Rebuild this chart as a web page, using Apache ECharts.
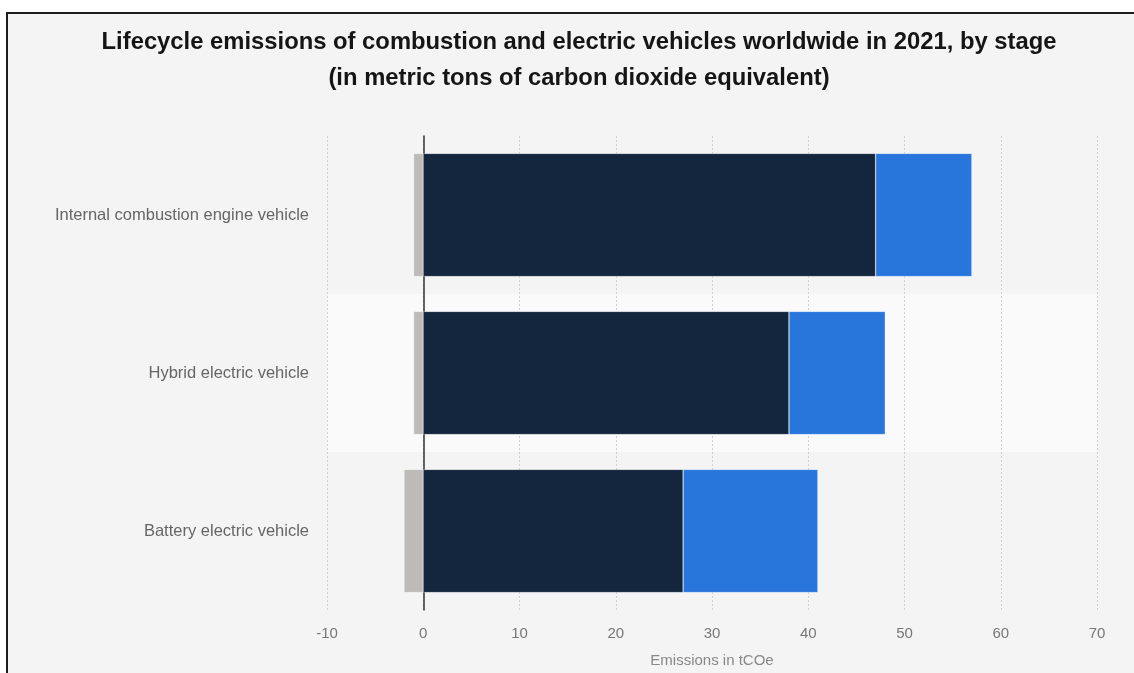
<!DOCTYPE html>
<html>
<head>
<meta charset="utf-8">
<script src="https://cdn.jsdelivr.net/npm/echarts@6/dist/echarts.min.js"></script>
<style>
  html, body { margin: 0; padding: 0; background: #fff; overflow: hidden; }
  #frame {
    position: absolute; left: 6px; top: 12px; width: 1200px; height: 700px;
    background: #f4f4f4; border: 2px solid #1c1c1c;
  }
  #main { position: absolute; left: 0; top: 0; width: 1134px; height: 673px; }
</style>
</head>
<body>
<div id="frame"></div>
<div id="main"></div>
<script>
const categories = [
  "Internal combustion engine vehicle",
  "Hybrid electric vehicle",
  "Battery electric vehicle"
];
const endOfLife = [-1, -1, -2];
const usePhase = [47, 38, 27];
const production = [10, 10, 14];
const xTicks = { min: -10, max: 70, interval: 10 };

const font = "Liberation Sans, Arial, sans-serif";

function barSeries(name, values, color) {
  return {
    name: name,
    type: "bar",
    stack: "total",
    data: values,
    barCategoryGap: "22%",
    itemStyle: { color: color, borderColor: "rgba(255,255,255,0.7)", borderWidth: 0.5 }
  };
}

const options = {
  backgroundColor: "transparent",
  animation: false,
  title: {
    text: "Lifecycle emissions of combustion and electric vehicles worldwide in 2021, by stage\n(in metric tons of carbon dioxide equivalent)",
    left: 574,
    top: 19,
    textAlign: "center",
    textStyle: { fontFamily: font, fontSize: 23.8, fontWeight: "bold", color: "#151515", lineHeight: 36 }
  },
  grid: { left: 327, right: 37, top: 136, bottom: 63, outerBoundsMode: "none", containLabel: false },
  xAxis: {
    type: "value",
    min: xTicks.min,
    max: xTicks.max,
    interval: xTicks.interval,
    name: "Emissions in tCOe",
    nameLocation: "middle",
    nameGap: 43,
    nameTextStyle: { fontFamily: font, fontSize: 15, color: "#888" },
    axisLine: { show: false },
    axisTick: { show: false },
    axisLabel: { fontFamily: font, fontSize: 15, color: "#777", margin: 16 },
    splitLine: { show: true, lineStyle: { color: "#cfcfcf", type: [2, 2], width: 1 } }
  },
  yAxis: {
    type: "category",
    data: categories,
    inverse: true,
    axisLine: { show: true, onZero: true, lineStyle: { color: "#333", width: 1.5 } },
    axisTick: { show: false },
    axisLabel: { fontFamily: font, fontSize: 16.5, color: "#666", margin: 18 },
    splitLine: { show: false },
    splitArea: { show: true, areaStyle: { color: ["rgba(0,0,0,0)", "#fafafa", "rgba(0,0,0,0)"] } }
  },
  series: [
    barSeries("End of life", endOfLife, "#bdbab7"),
    barSeries("Use phase", usePhase, "#13263d"),
    barSeries("Production", production, "#2875dc")
  ]
};

var myChart = echarts.init(document.getElementById("main"));
myChart.setOption(options);
</script>
</body>
</html>
